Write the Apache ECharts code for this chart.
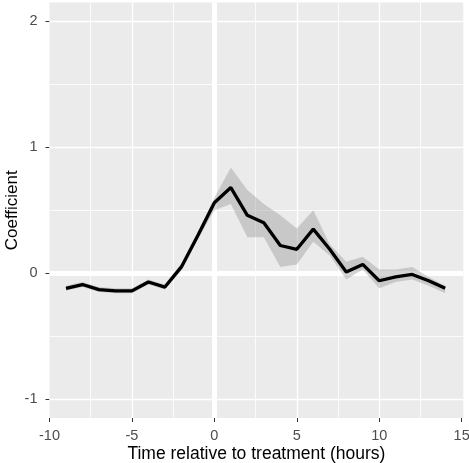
<!DOCTYPE html>
<html>
<head>
<meta charset="utf-8">
<script src="https://cdn.jsdelivr.net/npm/echarts@6/dist/echarts.min.js"></script>
<style>html,body{margin:0;padding:0;background:#fff;}#c{width:469px;height:463px;}</style>
</head>
<body>
<div id="c"></div>
<script>
const hours = [-9,-8,-7,-6,-5,-4,-3,-2,-1,0,1,2,3,4,5,6,7,8,9,10,11,12,13,14];
const coef  = [-0.12,-0.09,-0.13,-0.14,-0.14,-0.07,-0.11,0.05,0.30,0.56,0.68,0.46,0.40,0.22,0.19,0.35,0.19,0.01,0.07,-0.06,-0.03,-0.01,-0.06,-0.12];
const lower = [-0.14,-0.11,-0.15,-0.16,-0.16,-0.09,-0.13,0.02,0.27,0.50,0.55,0.285,0.285,0.05,0.07,0.25,0.14,-0.05,0.03,-0.12,-0.07,-0.05,-0.10,-0.16];
const upper = [-0.10,-0.07,-0.11,-0.12,-0.12,-0.05,-0.09,0.08,0.33,0.60,0.84,0.66,0.55,0.46,0.355,0.50,0.23,0.09,0.13,0.03,0.03,0.05,-0.03,-0.10];
const xTicks = [-10,-5,0,5,10,15];
const yTicks = [-1,0,1,2];
const xMajor = [-5,5,10];
const xMinor = [-7.5,-2.5,2.5,7.5,12.5];
const yMajor = [-1,1,2];
const yMinor = [-0.5,0.5,1.5];

const chart = echarts.init(document.getElementById('c'), null, {renderer:'canvas'});
const font = 'Liberation Sans, Arial, sans-serif';

function ml(vals, key, width){
  return vals.map(v => ({[key]: v, lineStyle:{width:width, color:'#ffffff', type:'solid'}}));
}

chart.setOption({
  animation:false,
  grid:{left:49.5, right:5.7, top:2.5, bottom:45, show:true, backgroundColor:'#EBEBEB', borderWidth:0,
        containLabel:false, outerBoundsMode:'none'},
  xAxis:{
    type:'value', min:-10, max:15.1,
    name:'Time relative to treatment (hours)', nameLocation:'middle', nameGap:27, nameMoveOverlap:false,
    nameTextStyle:{color:'#000', fontSize:17.5, fontFamily:font},
    axisLine:{show:true, onZero:false, lineStyle:{color:'rgba(0,0,0,0)'}},
    axisTick:{show:true, length:4, lineStyle:{color:'#333', width:1}, customValues:xTicks},
    axisLabel:{color:'#4D4D4D', fontSize:14.5, fontFamily:font, margin:10, customValues:xTicks},
    splitLine:{show:false}
  },
  yAxis:{
    type:'value', min:-1.15, max:2.15,
    name:'Coefficient', nameLocation:'middle', nameGap:28.5, nameRotate:90, nameMoveOverlap:false,
    nameTextStyle:{color:'#000', fontSize:17, fontFamily:font},
    axisLine:{show:true, onZero:false, lineStyle:{color:'rgba(0,0,0,0)'}},
    axisTick:{show:true, length:4, lineStyle:{color:'#333', width:1}, customValues:yTicks},
    axisLabel:{color:'#4D4D4D', fontSize:14.5, fontFamily:font, margin:12, customValues:yTicks},
    splitLine:{show:false}
  },
  series:[
    {
      type:'line', data:[], silent:true, z:1,
      markLine:{
        silent:true, symbol:'none', label:{show:false}, animation:false, z:1,
        data: [].concat(
          ml(xMinor,'xAxis',0.8), ml(yMinor,'yAxis',0.8),
          ml(xMajor,'xAxis',1.3), ml(yMajor,'yAxis',1.3),
          ml([0],'xAxis',5), ml([0],'yAxis',5)
        )
      }
    },
    {
      type:'custom', silent:true, z:2,
      data: hours.map((h,i)=>[h, lower[i], upper[i]]),
      renderItem: function(params, api){
        if (params.dataIndex !== 0) return;
        const pts = [];
        for (let i=0;i<hours.length;i++) pts.push(api.coord([hours[i], upper[i]]));
        for (let i=hours.length-1;i>=0;i--) pts.push(api.coord([hours[i], lower[i]]));
        return {type:'polygon', shape:{points:pts}, style:{fill:'rgba(153,153,153,0.42)'}};
      }
    },
    {
      type:'line', z:3, silent:true,
      data: hours.map((h,i)=>[h, coef[i]]),
      symbol:'none',
      lineStyle:{color:'#000', width:3.3},
      clip:true
    }
  ]
});
</script>
</body>
</html>
